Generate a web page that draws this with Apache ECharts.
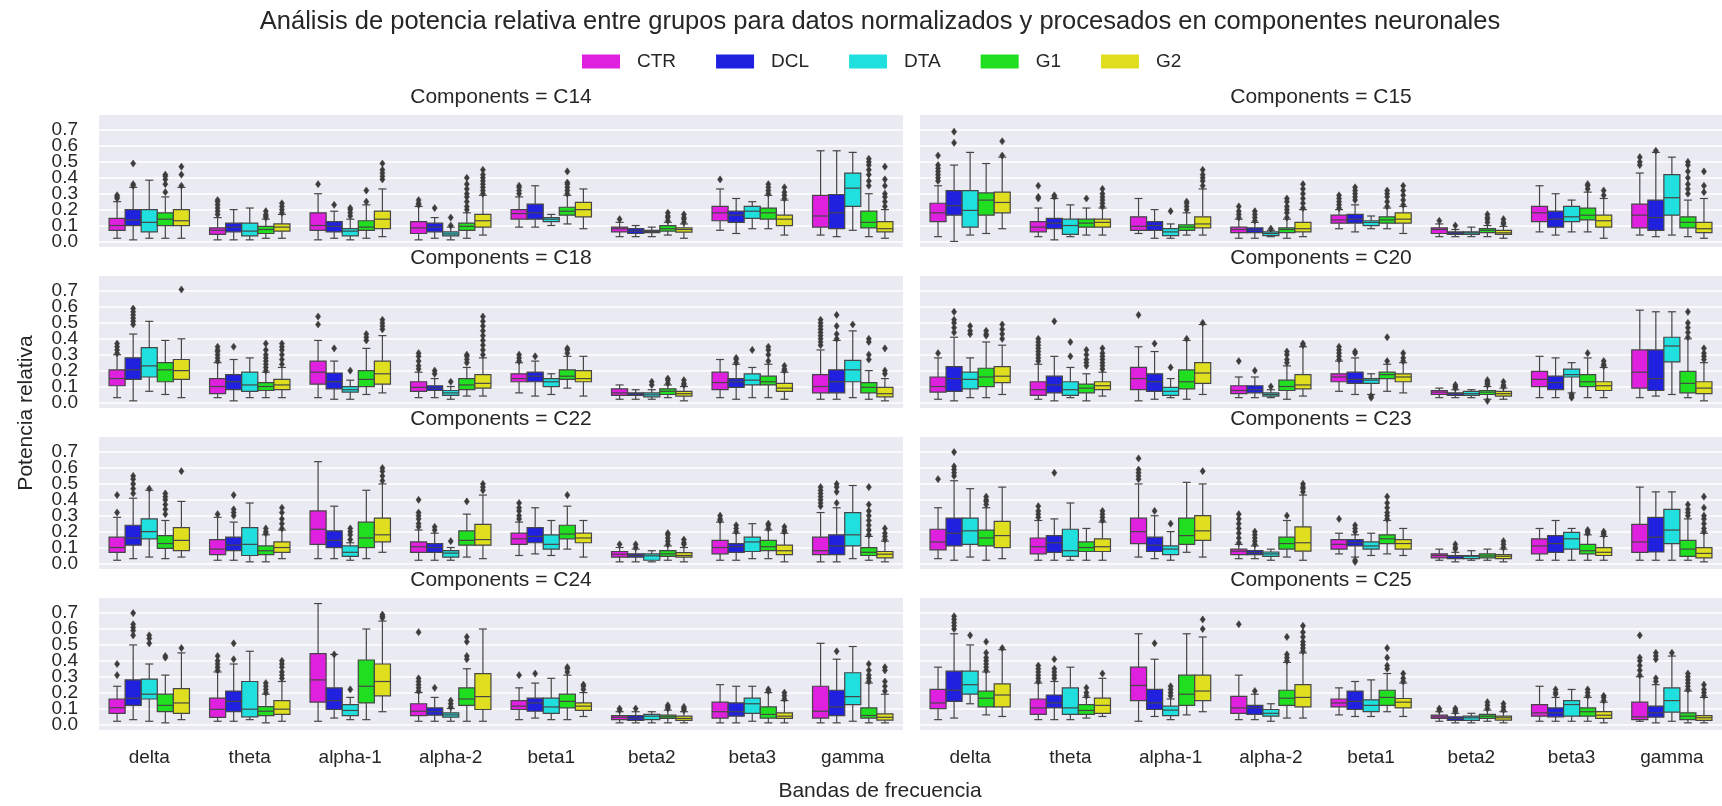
<!DOCTYPE html>
<html><head><meta charset="utf-8">
<script src="https://cdn.jsdelivr.net/npm/echarts@6/dist/echarts.min.js"></script>
<style>html,body{margin:0;padding:0;background:#fff}#c{width:1722px;height:806px}</style>
</head><body><div id="c"></div>
<script>
const bands = ['delta','theta','alpha-1','alpha-2','beta1','beta2','beta3','gamma'];
const groups = ['CTR','DCL','DTA','G1','G2'];
const components = ['C14','C15','C18','C20','C22','C23','C24','C25'];
const groupColors = ['#df20df','#2020df','#20dfdf','#20df20','#dfdf20'];

// each box: [lower whisker, Q1, median, Q3, upper whisker]; per group, 8 bands
const boxC14 = [
 [[0.02,0.07,0.10,0.145,0.25],[0.01,0.045,0.07,0.085,0.15],[0.01,0.07,0.10,0.18,0.30],[0.01,0.05,0.085,0.125,0.22],[0.09,0.14,0.175,0.20,0.28],[0.03,0.06,0.08,0.09,0.12],[0.07,0.13,0.18,0.22,0.33],[0.04,0.09,0.16,0.29,0.57]],
 [[0.01,0.10,0.135,0.20,0.34],[0.01,0.06,0.09,0.115,0.20],[0.02,0.06,0.095,0.125,0.19],[0.02,0.06,0.09,0.115,0.15],[0.09,0.14,0.18,0.235,0.35],[0.03,0.05,0.065,0.08,0.10],[0.05,0.12,0.165,0.19,0.27],[0.03,0.08,0.18,0.295,0.57]],
 [[0.02,0.06,0.12,0.20,0.385],[0.01,0.035,0.065,0.115,0.21],[0.01,0.035,0.065,0.08,0.14],[0.01,0.035,0.047,0.06,0.09],[0.10,0.125,0.14,0.15,0.17],[0.03,0.055,0.062,0.07,0.09],[0.08,0.145,0.19,0.22,0.25],[0.07,0.22,0.335,0.43,0.56]],
 [[0.02,0.10,0.14,0.18,0.28],[0.02,0.05,0.075,0.095,0.14],[0.02,0.07,0.09,0.13,0.23],[0.02,0.07,0.095,0.115,0.18],[0.11,0.165,0.19,0.215,0.29],[0.04,0.065,0.08,0.10,0.12],[0.08,0.14,0.18,0.21,0.29],[0.03,0.085,0.12,0.19,0.30]],
 [[0.02,0.10,0.13,0.20,0.34],[0.02,0.065,0.09,0.11,0.17],[0.03,0.08,0.14,0.19,0.33],[0.04,0.09,0.13,0.17,0.29],[0.08,0.155,0.20,0.245,0.33],[0.02,0.058,0.075,0.085,0.11],[0.04,0.10,0.14,0.165,0.26],[0.02,0.06,0.08,0.125,0.20]]
];
const outC14 = [
 [[0.27,0.28,0.29],[0.17,0.19,0.21,0.23,0.25,0.26],[0.36],[0.23,0.24,0.26],[0.30,0.32,0.34,0.35],[0.14],[0.39],[]],
 [[0.35,0.36,0.49],[],[0.23],[0.21],[],[],[],[]],
 [[],[],[0.16,0.18,0.20,0.21],[0.10,0.15],[],[],[],[]],
 [[0.31,0.36,0.39,0.41,0.42],[0.15,0.16,0.17,0.19],[0.25,0.32],[0.20,0.22,0.25,0.28,0.30,0.33,0.36,0.40],[0.30,0.32,0.34,0.36,0.37,0.44],[0.13,0.15,0.16,0.18],[0.30,0.32,0.34,0.36],[0.35,0.38,0.42,0.45,0.48,0.50,0.52]],
 [[0.35,0.42,0.47],[0.18,0.20,0.22,0.24],[0.39,0.41,0.43,0.45,0.49],[0.30,0.32,0.34,0.36,0.38,0.40,0.42,0.45],[],[0.12,0.14,0.15,0.17],[0.27,0.29,0.31,0.34],[0.22,0.25,0.28,0.30,0.35,0.39,0.47]]
];
const boxC15 = [
 [[0.03,0.125,0.18,0.24,0.35],[0.03,0.06,0.09,0.125,0.21],[0.05,0.07,0.095,0.155,0.27],[0.02,0.055,0.075,0.09,0.14],[0.08,0.115,0.135,0.165,0.20],[0.03,0.05,0.075,0.085,0.11],[0.06,0.125,0.18,0.22,0.35],[0.04,0.085,0.165,0.235,0.43]],
 [[0.00,0.165,0.225,0.32,0.48],[0.01,0.08,0.115,0.145,0.27],[0.02,0.07,0.10,0.125,0.20],[0.02,0.055,0.07,0.085,0.12],[0.06,0.115,0.14,0.17,0.23],[0.03,0.045,0.054,0.06,0.075],[0.04,0.09,0.14,0.19,0.30],[0.03,0.07,0.15,0.26,0.56]],
 [[0.04,0.09,0.195,0.32,0.56],[0.03,0.045,0.10,0.14,0.23],[0.02,0.037,0.06,0.08,0.11],[0.03,0.037,0.05,0.06,0.07],[0.08,0.10,0.12,0.13,0.16],[0.03,0.045,0.054,0.06,0.09],[0.06,0.125,0.155,0.22,0.26],[0.04,0.165,0.275,0.42,0.53]],
 [[0.05,0.165,0.26,0.305,0.49],[0.04,0.09,0.115,0.14,0.21],[0.04,0.07,0.09,0.105,0.18],[0.02,0.055,0.075,0.085,0.14],[0.08,0.115,0.135,0.155,0.21],[0.03,0.055,0.07,0.08,0.10],[0.06,0.135,0.165,0.21,0.31],[0.03,0.085,0.12,0.155,0.26]],
 [[0.08,0.18,0.245,0.31,0.53],[0.04,0.09,0.12,0.14,0.21],[0.04,0.085,0.11,0.155,0.33],[0.03,0.06,0.08,0.12,0.20],[0.05,0.115,0.14,0.18,0.22],[0.02,0.045,0.054,0.07,0.095],[0.02,0.09,0.13,0.165,0.27],[0.02,0.055,0.08,0.12,0.27]]
];
const outC15 = [
 [[0.38,0.40,0.42,0.44,0.46,0.48,0.54],[0.27,0.28,0.35],[],[0.15,0.17,0.19,0.22],[0.21,0.23,0.25,0.27,0.29],[0.13],[],[0.48,0.50,0.53]],
 [[0.62,0.69],[0.28,0.29],[],[0.13,0.15,0.17,0.19],[0.26,0.28,0.30,0.32,0.34],[0.10],[],[0.57]],
 [[],[],[0.19],[0.08],[],[],[],[]],
 [[],[0.27],[0.20,0.22,0.24,0.25],[0.15,0.18,0.20,0.22,0.25,0.27],[0.22,0.25,0.28,0.30,0.32],[0.12,0.14,0.15,0.17],[0.33,0.35,0.36],[0.30,0.33,0.36,0.40,0.44,0.48,0.50]],
 [[0.54,0.63],[0.22,0.24,0.26,0.28,0.30,0.33],[0.35,0.38,0.40,0.42,0.45],[0.21,0.24,0.27,0.30,0.33,0.36],[0.23,0.26,0.29,0.32,0.35],[0.11,0.12,0.14],[0.29,0.32],[0.31,0.35,0.44]]
];
const boxC18 = [
 [[0.03,0.105,0.15,0.205,0.30],[0.03,0.055,0.10,0.15,0.25],[0.03,0.115,0.19,0.26,0.39],[0.03,0.07,0.095,0.13,0.19],[0.06,0.13,0.15,0.18,0.25],[0.02,0.045,0.06,0.085,0.11],[0.03,0.08,0.125,0.19,0.27],[0.02,0.06,0.10,0.175,0.33]],
 [[0.01,0.145,0.205,0.28,0.43],[0.01,0.08,0.13,0.175,0.27],[0.02,0.085,0.13,0.185,0.26],[0.03,0.075,0.09,0.105,0.15],[0.04,0.13,0.165,0.19,0.26],[0.02,0.045,0.054,0.06,0.08],[0.02,0.095,0.13,0.15,0.24],[0.02,0.06,0.13,0.205,0.39]],
 [[0.07,0.16,0.23,0.345,0.51],[0.03,0.07,0.11,0.19,0.28],[0.02,0.065,0.08,0.10,0.14],[0.02,0.045,0.06,0.075,0.10],[0.05,0.10,0.13,0.15,0.18],[0.02,0.035,0.048,0.06,0.08],[0.03,0.11,0.14,0.18,0.22],[0.03,0.13,0.205,0.265,0.45]],
 [[0.05,0.13,0.205,0.25,0.39],[0.03,0.075,0.10,0.125,0.19],[0.05,0.10,0.145,0.20,0.34],[0.04,0.08,0.11,0.15,0.22],[0.09,0.145,0.165,0.205,0.29],[0.03,0.05,0.07,0.085,0.11],[0.03,0.11,0.13,0.165,0.24],[0.02,0.06,0.095,0.125,0.20]],
 [[0.03,0.145,0.20,0.27,0.40],[0.03,0.08,0.11,0.145,0.22],[0.06,0.115,0.18,0.26,0.42],[0.04,0.09,0.12,0.175,0.28],[0.04,0.13,0.15,0.20,0.29],[0.01,0.04,0.055,0.07,0.10],[0.02,0.07,0.09,0.12,0.19],[0.01,0.035,0.055,0.095,0.15]]
];
const outC18 = [
 [[0.31,0.33,0.35,0.37],[0.26,0.28,0.30,0.32,0.33,0.35],[0.49,0.54],[0.21,0.23,0.26,0.29,0.31],[0.26,0.28,0.30],[],[],[0.36,0.38,0.40,0.42,0.44,0.46,0.48,0.50,0.52]],
 [[0.49,0.51,0.53,0.55,0.57,0.59],[0.35],[0.34],[0.18,0.20],[0.29],[],[0.25,0.27,0.28],[0.40,0.43,0.48,0.55]],
 [[],[],[0.20],[0.13],[],[0.11,0.13],[0.33],[0.49]],
 [[],[0.20,0.22,0.24,0.26,0.28,0.30,0.33,0.37],[0.39,0.41,0.43],[0.25,0.27,0.29,0.30],[0.31,0.33,0.34],[0.12,0.14,0.15],[0.26,0.30,0.33,0.35],[0.27,0.30,0.38,0.40]],
 [[0.71],[0.24,0.27,0.30,0.33,0.35,0.37],[0.46,0.48,0.50,0.52],[0.30,0.33,0.36,0.39,0.42,0.45,0.48,0.51,0.54],[],[0.11,0.12,0.14],[0.20,0.21,0.23],[0.18,0.20,0.34]]
];
const boxC20 = [
 [[0.02,0.065,0.10,0.16,0.28],[0.02,0.045,0.08,0.13,0.24],[0.01,0.08,0.15,0.22,0.35],[0.03,0.055,0.075,0.105,0.16],[0.07,0.13,0.16,0.18,0.26],[0.03,0.05,0.065,0.075,0.09],[0.03,0.10,0.145,0.195,0.29],[0.03,0.09,0.19,0.33,0.58]],
 [[0.01,0.07,0.15,0.225,0.41],[0.01,0.06,0.11,0.165,0.29],[0.02,0.07,0.13,0.18,0.32],[0.03,0.06,0.08,0.105,0.16],[0.05,0.12,0.145,0.19,0.28],[0.03,0.045,0.055,0.06,0.08],[0.03,0.08,0.125,0.165,0.28],[0.04,0.075,0.15,0.33,0.57]],
 [[0.03,0.085,0.145,0.19,0.28],[0.03,0.045,0.08,0.13,0.22],[0.03,0.045,0.07,0.095,0.15],[0.03,0.04,0.05,0.06,0.08],[0.05,0.12,0.14,0.15,0.18],[0.03,0.045,0.055,0.07,0.08],[0.06,0.16,0.175,0.21,0.25],[0.05,0.255,0.355,0.41,0.57]],
 [[0.03,0.10,0.16,0.215,0.38],[0.01,0.06,0.09,0.115,0.18],[0.02,0.085,0.13,0.205,0.39],[0.02,0.075,0.10,0.14,0.23],[0.07,0.15,0.175,0.19,0.24],[0.02,0.05,0.065,0.075,0.10],[0.03,0.10,0.13,0.175,0.28],[0.03,0.06,0.12,0.195,0.40]],
 [[0.05,0.125,0.165,0.225,0.36],[0.04,0.08,0.105,0.13,0.19],[0.05,0.12,0.185,0.25,0.49],[0.04,0.085,0.11,0.175,0.35],[0.06,0.13,0.16,0.18,0.25],[0.02,0.04,0.055,0.07,0.09],[0.03,0.075,0.105,0.13,0.22],[0.01,0.055,0.09,0.13,0.25]]
];
const outC20 = [
 [[0.31],[0.26,0.28,0.30,0.32,0.34,0.36,0.38,0.40],[0.55],[0.26],[0.27,0.29,0.31,0.33,0.35],[],[],[]],
 [[0.44,0.47,0.50,0.52,0.57],[0.51],[0.37],[0.20],[0.31,0.32],[0.09,0.10,0.11],[],[]],
 [[0.43,0.45,0.48],[0.29,0.38],[0.22],[0.10],[0.03,0.04],[],[0.03,0.04,0.05],[]],
 [[0.42,0.43,0.45],[0.23,0.25,0.27,0.30,0.33],[0.40],[0.25,0.27,0.30,0.32],[0.26,0.41],[0.01,0.11,0.12,0.13,0.14],[0.31],[0.41,0.44,0.47,0.50,0.57]],
 [[0.40,0.43,0.46,0.49],[0.21,0.23,0.25,0.27,0.29,0.31,0.34],[0.50],[0.36,0.37],[0.26,0.28,0.31],[0.10,0.11,0.13],[0.23,0.24,0.26],[0.27,0.29,0.31,0.34]]
];
const boxC22 = [
 [[0.02,0.07,0.10,0.165,0.29],[0.02,0.055,0.09,0.15,0.29],[0.03,0.12,0.215,0.33,0.64],[0.02,0.07,0.105,0.135,0.21],[0.05,0.12,0.155,0.19,0.26],[0.01,0.04,0.058,0.075,0.10],[0.02,0.06,0.10,0.145,0.26],[0.01,0.055,0.08,0.165,0.32]],
 [[0.03,0.115,0.16,0.24,0.41],[0.02,0.08,0.115,0.165,0.26],[0.03,0.10,0.145,0.205,0.36],[0.02,0.07,0.10,0.125,0.19],[0.06,0.13,0.17,0.225,0.35],[0.01,0.04,0.05,0.06,0.09],[0.02,0.07,0.105,0.125,0.19],[0.01,0.055,0.11,0.18,0.35]],
 [[0.04,0.155,0.20,0.28,0.46],[0.01,0.05,0.12,0.225,0.38],[0.02,0.045,0.07,0.11,0.13],[0.02,0.04,0.065,0.08,0.10],[0.05,0.09,0.12,0.18,0.27],[0.01,0.02,0.048,0.06,0.08],[0.03,0.075,0.135,0.165,0.25],[0.03,0.11,0.18,0.32,0.49]],
 [[0.03,0.095,0.125,0.175,0.27],[0.01,0.055,0.08,0.11,0.18],[0.03,0.10,0.16,0.26,0.46],[0.04,0.115,0.145,0.205,0.31],[0.09,0.155,0.185,0.24,0.36],[0.02,0.045,0.06,0.08,0.11],[0.03,0.08,0.105,0.145,0.21],[0.02,0.05,0.07,0.10,0.17]],
 [[0.04,0.08,0.145,0.225,0.39],[0.03,0.07,0.10,0.135,0.21],[0.07,0.135,0.18,0.285,0.50],[0.03,0.115,0.15,0.245,0.43],[0.04,0.13,0.16,0.19,0.27],[0.01,0.04,0.05,0.068,0.10],[0.01,0.055,0.08,0.115,0.19],[0.01,0.035,0.058,0.075,0.14]]
];
const outC22 = [
 [[0.32,0.43],[0.31],[],[0.23,0.25,0.28,0.30,0.32,0.40],[0.28,0.30,0.33,0.35,0.38],[0.12],[0.27,0.28,0.30],[0.36,0.38,0.40,0.42,0.44,0.46,0.48]],
 [[0.44,0.47,0.50,0.53,0.55],[0.30,0.32,0.34,0.43],[],[0.21,0.23],[],[0.10,0.12],[0.20,0.22,0.24],[0.38,0.45,0.48,0.50]],
 [[0.47],[],[0.15,0.18,0.20,0.22],[0.14],[],[],[],[]],
 [[0.31,0.34,0.37,0.40,0.42,0.44],[0.19,0.20,0.22],[],[0.39],[0.43],[0.12,0.14,0.16,0.18,0.19],[0.22,0.24,0.25],[0.18,0.21,0.24,0.27,0.30,0.33,0.37,0.48]],
 [[0.58],[0.22,0.25,0.28,0.32,0.35],[0.52,0.55,0.58,0.60],[0.46,0.48,0.50],[],[0.12,0.13,0.15],[0.20,0.21,0.23],[0.15,0.17,0.19,0.22]]
];
const boxC23 = [
 [[0.03,0.085,0.135,0.215,0.35],[0.02,0.06,0.105,0.16,0.27],[0.04,0.125,0.20,0.285,0.50],[0.03,0.055,0.077,0.09,0.12],[0.06,0.09,0.12,0.15,0.19],[0.02,0.035,0.05,0.06,0.09],[0.02,0.06,0.11,0.155,0.22],[0.02,0.07,0.135,0.245,0.48]],
 [[0.02,0.11,0.19,0.285,0.52],[0.02,0.07,0.13,0.175,0.28],[0.03,0.075,0.115,0.165,0.30],[0.03,0.055,0.068,0.08,0.11],[0.04,0.11,0.13,0.15,0.18],[0.01,0.03,0.045,0.05,0.07],[0.02,0.07,0.125,0.175,0.27],[0.02,0.072,0.165,0.29,0.45]],
 [[0.04,0.12,0.205,0.285,0.47],[0.02,0.045,0.08,0.215,0.38],[0.02,0.055,0.09,0.11,0.20],[0.02,0.045,0.06,0.072,0.09],[0.05,0.09,0.11,0.135,0.19],[0.02,0.03,0.045,0.05,0.08],[0.02,0.09,0.155,0.195,0.22],[0.02,0.125,0.21,0.34,0.45]],
 [[0.02,0.11,0.16,0.21,0.35],[0.02,0.075,0.10,0.135,0.22],[0.07,0.12,0.175,0.285,0.51],[0.04,0.09,0.125,0.165,0.27],[0.06,0.125,0.155,0.18,0.27],[0.02,0.035,0.047,0.06,0.09],[0.02,0.06,0.08,0.12,0.18],[0.02,0.045,0.09,0.145,0.28]],
 [[0.03,0.10,0.175,0.265,0.48],[0.02,0.075,0.105,0.155,0.26],[0.04,0.145,0.205,0.30,0.50],[0.02,0.077,0.13,0.23,0.43],[0.05,0.09,0.125,0.15,0.22],[0.01,0.03,0.045,0.055,0.09],[0.02,0.05,0.07,0.10,0.17],[0.01,0.035,0.063,0.10,0.19]]
];
const outC23 = [
 [[0.53],[0.29,0.31,0.33,0.36],[0.53,0.55,0.57,0.59,0.66],[0.13,0.16,0.19,0.22,0.25,0.28,0.31],[0.28],[],[],[]],
 [[0.55,0.57,0.59,0.61,0.70],[0.57],[0.33],[0.12,0.14,0.16,0.18,0.20],[0.01,0.02,0.20,0.22,0.24],[0.09,0.10,0.12],[],[]],
 [[],[],[0.25],[],[],[],[],[]],
 [[0.37,0.39,0.40,0.42],[],[],[0.30],[0.28,0.30,0.32,0.35,0.38,0.42],[],[0.19,0.20,0.21],[0.30,0.32,0.34,0.37]],
 [[],[0.27,0.29,0.31,0.33],[0.58],[0.45,0.47,0.48,0.50],[],[0.10,0.12,0.14],[0.18,0.19,0.20],[0.20,0.22,0.25,0.28,0.30,0.35,0.42]]
];
const boxC24 = [
 [[0.02,0.07,0.105,0.16,0.24],[0.02,0.045,0.095,0.165,0.33],[0.02,0.14,0.28,0.445,0.76],[0.02,0.056,0.083,0.13,0.20],[0.03,0.094,0.115,0.15,0.23],[0.01,0.03,0.045,0.056,0.08],[0.01,0.04,0.08,0.14,0.25],[0.01,0.04,0.083,0.24,0.51]],
 [[0.03,0.12,0.165,0.28,0.50],[0.02,0.08,0.145,0.21,0.38],[0.04,0.094,0.15,0.23,0.44],[0.02,0.058,0.08,0.104,0.17],[0.04,0.083,0.135,0.165,0.26],[0.01,0.025,0.04,0.056,0.08],[0.01,0.052,0.08,0.135,0.24],[0.01,0.056,0.11,0.215,0.41]],
 [[0.02,0.16,0.19,0.285,0.38],[0.03,0.048,0.096,0.27,0.46],[0.03,0.056,0.088,0.125,0.17],[0.02,0.046,0.06,0.073,0.10],[0.03,0.07,0.11,0.165,0.29],[0.01,0.03,0.052,0.063,0.08],[0.02,0.07,0.13,0.165,0.24],[0.02,0.125,0.175,0.325,0.49]],
 [[0.01,0.08,0.12,0.19,0.31],[0.01,0.056,0.083,0.112,0.19],[0.03,0.135,0.24,0.405,0.60],[0.02,0.12,0.16,0.23,0.35],[0.03,0.104,0.145,0.19,0.31],[0.01,0.038,0.048,0.058,0.09],[0.01,0.04,0.063,0.11,0.20],[0.01,0.04,0.056,0.104,0.26]],
 [[0.03,0.07,0.135,0.225,0.45],[0.02,0.063,0.096,0.15,0.27],[0.08,0.18,0.27,0.38,0.65],[0.02,0.094,0.175,0.32,0.60],[0.05,0.088,0.115,0.135,0.20],[0.01,0.025,0.038,0.052,0.08],[0.01,0.038,0.052,0.073,0.15],[0.01,0.027,0.045,0.067,0.19]]
];
const outC24 = [
 [[0.31,0.38],[0.34,0.36,0.38,0.40,0.43],[],[0.21,0.23,0.25,0.27,0.29,0.58],[0.31],[0.09,0.10],[],[]],
 [[0.56,0.59,0.61,0.63,0.70],[0.41,0.51],[0.44],[0.23],[0.32],[0.10],[],[0.46]],
 [[0.51,0.54,0.56],[],[0.22],[0.11,0.13,0.15],[],[],[],[]],
 [[0.42,0.43],[0.20,0.22,0.24,0.26],[],[0.41,0.43,0.52,0.55],[0.33,0.35,0.36],[0.10,0.11,0.12],[0.21,0.22],[0.27,0.29,0.31,0.34,0.38]],
 [[0.48],[0.29,0.31,0.33,0.36,0.38,0.40],[0.67,0.68,0.69],[],[0.22,0.24,0.25],[0.09,0.10,0.11],[0.16,0.18,0.20],[0.21,0.24,0.27,0.34,0.36]]
];
const boxC25 = [
 [[0.03,0.10,0.135,0.22,0.36],[0.03,0.063,0.104,0.16,0.26],[0.02,0.15,0.245,0.36,0.57],[0.03,0.07,0.104,0.177,0.31],[0.06,0.11,0.135,0.16,0.23],[0.02,0.038,0.048,0.058,0.08],[0.02,0.052,0.073,0.125,0.24],[0.02,0.03,0.048,0.14,0.30]],
 [[0.04,0.145,0.215,0.335,0.57],[0.03,0.104,0.135,0.185,0.27],[0.05,0.094,0.135,0.22,0.41],[0.03,0.063,0.104,0.12,0.19],[0.05,0.094,0.145,0.21,0.27],[0.01,0.025,0.038,0.048,0.07],[0.02,0.048,0.073,0.104,0.17],[0.01,0.046,0.073,0.115,0.25]],
 [[0.13,0.19,0.25,0.335,0.50],[0.03,0.063,0.104,0.23,0.36],[0.03,0.056,0.09,0.115,0.16],[0.02,0.052,0.07,0.094,0.13],[0.05,0.08,0.12,0.155,0.28],[0.01,0.025,0.042,0.052,0.07],[0.02,0.052,0.125,0.15,0.22],[0.02,0.077,0.15,0.23,0.43]],
 [[0.06,0.11,0.165,0.21,0.33],[0.04,0.063,0.088,0.125,0.17],[0.06,0.12,0.19,0.31,0.57],[0.04,0.12,0.165,0.215,0.39],[0.08,0.12,0.17,0.215,0.32],[0.02,0.038,0.052,0.063,0.09],[0.02,0.052,0.08,0.104,0.17],[0.01,0.03,0.052,0.073,0.21]],
 [[0.05,0.11,0.185,0.255,0.47],[0.05,0.07,0.12,0.165,0.29],[0.08,0.15,0.21,0.31,0.55],[0.04,0.11,0.17,0.25,0.45],[0.05,0.104,0.14,0.163,0.26],[0.01,0.027,0.042,0.052,0.08],[0.01,0.038,0.058,0.08,0.14],[0.01,0.025,0.042,0.056,0.17]]
];
const outC25 = [
 [[],[0.27,0.29,0.31,0.33,0.35,0.37],[],[0.63],[],[0.09,0.10],[],[0.31,0.34,0.37,0.40,0.42,0.56]],
 [[0.60,0.62,0.64,0.66,0.68],[0.29,0.31,0.33,0.35,0.41],[0.51],[0.21],[],[0.08,0.09,0.10],[0.19,0.20,0.22],[0.27,0.29,0.41,0.43,0.45]],
 [[0.56],[],[0.18,0.20,0.22,0.24],[],[],[],[],[0.45]],
 [[0.34,0.36,0.38,0.40,0.42,0.45,0.52],[0.18,0.20,0.23],[],[0.40,0.42,0.44,0.55],[0.35,0.37,0.42,0.48],[0.10,0.12,0.14],[0.18,0.20,0.22],[0.22,0.24,0.26,0.28,0.30,0.32]],
 [[0.48],[0.32],[0.60,0.66],[0.46,0.48,0.50,0.52,0.55,0.58,0.62],[0.27,0.29,0.32],[0.09,0.11,0.13],[0.15,0.17,0.18],[0.18,0.20,0.22,0.25]]
];

const boxes = [boxC14, boxC15, boxC18, boxC20, boxC22, boxC23, boxC24, boxC25];
const outs = [outC14, outC15, outC18, outC20, outC22, outC23, outC24, outC25];

// ---- layout / style ----
const FONT = '"Liberation Sans", Arial, sans-serif';
const TXT = '#262626';
const LINE = '#464646';
const COL_LEFT = [99, 920], COL_W = [804, 802];
const ROW_TOP = [115, 276, 437, 598], ROW_H = 132;
const Y_MIN = -0.035, Y_MAX = 0.795;
const NG = groups.length;

function boxRenderer(g, color) {
  return function (params, api) {
    const cat = api.value(0);
    const bw = api.size([1, 0])[0];
    const w = bw * 0.8 / NG;
    const cx = api.coord([cat, 0])[0] + (g - (NG - 1) / 2) * w;
    const yv = i => api.coord([cat, api.value(i)])[1];
    const lo = yv(1), q1 = yv(2), med = yv(3), q3 = yv(4), hi = yv(5);
    const half = w / 2, cap = w * 0.25;
    const ls = { stroke: LINE, lineWidth: 1.2 };
    return { type: 'group', children: [
      { type: 'line', shape: { x1: cx, y1: q1, x2: cx, y2: lo }, style: ls },
      { type: 'line', shape: { x1: cx, y1: q3, x2: cx, y2: hi }, style: ls },
      { type: 'line', shape: { x1: cx - cap, y1: lo, x2: cx + cap, y2: lo }, style: ls },
      { type: 'line', shape: { x1: cx - cap, y1: hi, x2: cx + cap, y2: hi }, style: ls },
      { type: 'rect', shape: { x: cx - half, y: q3, width: w, height: q1 - q3 }, style: { fill: color, stroke: LINE, lineWidth: 1.2 } },
      { type: 'line', shape: { x1: cx - half, y1: med, x2: cx + half, y2: med }, style: ls }
    ]};
  };
}
function outRenderer(g) {
  return function (params, api) {
    const cat = api.value(0);
    const bw = api.size([1, 0])[0];
    const w = bw * 0.8 / NG;
    const p = api.coord([cat, api.value(1)]);
    const cx = p[0] + (g - (NG - 1) / 2) * w, cy = p[1];
    return { type: 'polygon', shape: { points: [[cx, cy - 3.6], [cx + 2.6, cy], [cx, cy + 3.6], [cx - 2.6, cy]] },
      style: { fill: '#3c3c3c', stroke: '#3c3c3c', lineWidth: 0.5 } };
  };
}

const grid = [], xAxis = [], yAxis = [], series = [], graphic = [];
components.forEach((name, p) => {
  const r = Math.floor(p / 2), c = p % 2;
  grid.push({ left: COL_LEFT[c], top: ROW_TOP[r], width: COL_W[c], height: ROW_H,
    show: true, backgroundColor: '#eaeaf2', borderWidth: 0, containLabel: false, outerBoundsMode: 'none' });
  xAxis.push({ type: 'category', gridIndex: p, data: bands, boundaryGap: true,
    axisLine: { show: false }, axisTick: { show: false }, splitLine: { show: false },
    axisLabel: { show: r === 3, interval: 0, fontSize: 19, color: TXT, fontFamily: FONT, margin: 18 } });
  yAxis.push({ type: 'value', gridIndex: p, min: Y_MIN, max: Y_MAX, splitNumber: 8, minInterval: 0.1, maxInterval: 0.1,
    axisLine: { show: false }, axisTick: { show: false },
    axisLabel: { show: c === 0, fontSize: 19, color: TXT, fontFamily: FONT, margin: 21, showMinLabel: false, showMaxLabel: false,
      formatter: v => (Math.abs(v * 10 - Math.round(v * 10)) < 1e-6 ? v.toFixed(1) : '') },
    splitLine: { show: true, showMinLine: false, showMaxLine: false, lineStyle: { color: '#ffffff', width: 1.6 } } });
  graphic.push({ type: 'text', x: COL_LEFT[c] + COL_W[c] / 2, y: ROW_TOP[r] - 18,
    style: { text: 'Components = ' + name, font: '21px ' + FONT, fill: TXT, align: 'center', verticalAlign: 'middle' } });
  groups.forEach((gName, g) => {
    series.push({ type: 'custom', name: gName, xAxisIndex: p, yAxisIndex: p, silent: true, clip: false,
      itemStyle: { color: groupColors[g] }, renderItem: boxRenderer(g, groupColors[g]),
      data: boxes[p][g].map((b, i) => [i].concat(b)) });
    const od = [];
    outs[p][g].forEach((vals, i) => vals.forEach(v => od.push([i, v])));
    series.push({ type: 'custom', name: gName, xAxisIndex: p, yAxisIndex: p, silent: true, clip: false,
      itemStyle: { color: groupColors[g] }, renderItem: outRenderer(g), data: od });
  });
});

graphic.push({ type: 'text', x: 880, y: 22, style: { text: 'Análisis de potencia relativa entre grupos para datos normalizados y procesados en componentes neuronales',
  font: '25.5px ' + FONT, fill: TXT, align: 'center', verticalAlign: 'middle' } });
graphic.push({ type: 'text', x: 880, y: 791, style: { text: 'Bandas de frecuencia', font: '21px ' + FONT, fill: TXT, align: 'center', verticalAlign: 'middle' } });
graphic.push({ type: 'text', x: 26, y: 413, rotation: Math.PI / 2, style: { text: 'Potencia relativa', font: '21px ' + FONT, fill: TXT, align: 'center', verticalAlign: 'middle' } });

const chart = echarts.init(document.getElementById('c'), null, { renderer: 'canvas' });
chart.setOption({
  animation: false,
  backgroundColor: '#ffffff',
  legend: { data: groups, top: 52, left: 582, padding: 0, itemWidth: 38, itemHeight: 14, itemGap: 40, icon: 'rect', selectedMode: false,
    textStyle: { fontSize: 19, color: TXT, fontFamily: FONT, padding: [0, 0, 0, 12] } },
  grid, xAxis, yAxis, series, graphic
});
</script></body></html>
